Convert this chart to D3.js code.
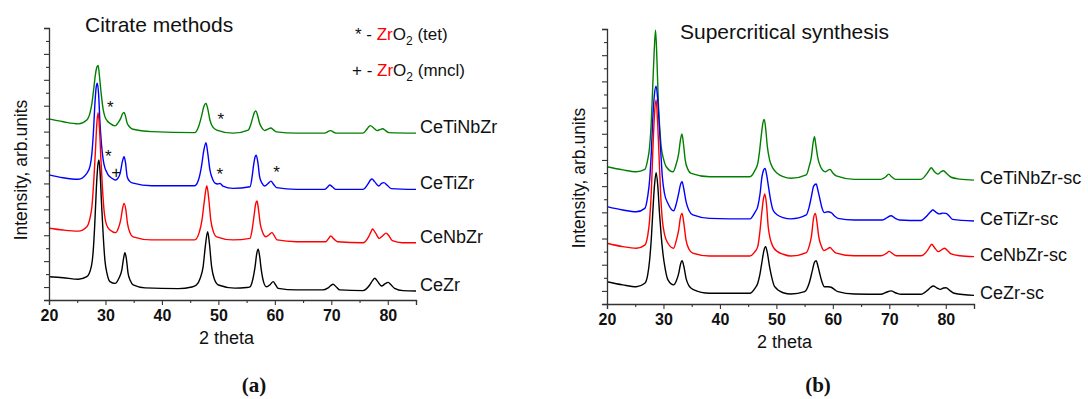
<!DOCTYPE html>
<html>
<head>
<meta charset="utf-8">
<script src="https://cdn.jsdelivr.net/npm/d3@7"></script>
<style>
  body { margin: 0; background: #fff; }
  svg { display: block; font-family: "Liberation Sans", Arial, sans-serif; }
</style>
</head>
<body>
<div id="chart"></div>
<script>
// Axis ticks
const thetaMajor = [20, 30, 40, 50, 60, 70, 80]
const thetaMinor = [25, 35, 45, 55, 65, 75, 85]
const intensityMajor = [50, 150, 250, 350, 450, 550, 650, 750, 850, 950, 1050]
const intensityMinor = [0, 100, 200, 300, 400, 500, 600, 700, 800, 900, 1000]

// (a) citrate methods, [2 theta, intensity]
const citrateCeZr = [[20,90],[22.5,86],[25.2,80],[26.7,90],[27.5,130],[27.8,181],[28.1,290],[28.4,437],[28.65,520],[28.85,541],[29.05,490],[29.3,375],[29.6,250],[29.9,154],[30.3,100],[30.8,71],[31.7,64],[32.4,85],[32.9,116],[33.2,160],[33.45,183],[33.7,160],[34.0,104],[34.4,75],[34.9,58],[37,47],[42.9,44],[45.3,50],[46.1,58],[46.8,85],[47.3,129],[47.7,210],[48.1,264],[48.4,220],[48.8,129],[49.3,80],[50,58],[52.9,46],[55,48],[55.6,51],[56.1,80],[56.5,129],[56.8,180],[57.05,196],[57.3,170],[57.6,116],[58,70],[58.5,51],[59.2,60],[59.7,71],[60.1,60],[60.6,45],[63.8,39],[68.5,39],[69.5,48],[70.3,61],[70.9,50],[71.5,39],[75.6,36],[76.8,58],[77.3,75],[77.7,84],[78.2,72],[78.9,54],[79.5,62],[80.05,68],[80.6,58],[81.2,45],[82.7,36],[85,35]]
const citrateCeNbZr = [[20,277],[22.5,270],[25.2,266],[26.7,283],[27.3,320],[27.6,360],[27.9,450],[28.2,566],[28.5,690],[28.7,723],[28.95,660],[29.2,540],[29.5,420],[29.8,335],[30.2,290],[30.8,270],[31.8,260],[32.3,278],[32.7,309],[33.0,350],[33.3,373],[33.6,350],[33.9,296],[34.3,262],[34.9,244],[38.2,232],[45.8,232],[46.6,260],[47.1,309],[47.5,380],[47.95,441],[48.3,390],[48.65,309],[49.1,265],[49.7,244],[52.6,232],[55.6,238],[56.0,275],[56.3,322],[56.6,370],[56.85,382],[57.1,350],[57.4,296],[57.9,258],[58.4,244],[59.0,252],[59.5,260],[59.9,248],[60.4,232],[63.8,225],[69.0,225],[69.5,237],[69.9,247],[70.4,237],[71.1,225],[75.6,221],[76.6,244],[77.0,262],[77.3,274],[77.8,260],[78.5,238],[79.1,248],[79.7,258],[80.2,248],[80.8,229],[82.6,221],[85,221]]
const citrateCeTiZr = [[20,483],[22.5,472],[25.2,466],[26.7,489],[27.3,520],[27.6,566],[27.9,660],[28.1,746],[28.35,820],[28.55,837],[28.8,790],[29.0,695],[29.3,600],[29.6,541],[29.9,510],[30.2,495],[30.5,482],[30.8,476],[31.3,468],[31.8,463],[32.2,470],[32.6,489],[33.0,535],[33.3,553],[33.55,530],[33.85,476],[34.3,458],[34.9,451],[38.2,441],[45.8,441],[46.5,465],[47.0,515],[47.4,575],[47.8,607],[48.1,570],[48.5,502],[49.0,465],[49.4,451],[49.9,448],[50.3,450],[50.8,440],[52.6,431],[55.6,437],[56.0,480],[56.2,515],[56.5,552],[56.7,559],[57.0,530],[57.3,476],[57.7,452],[58.2,440],[58.8,450],[59.3,459],[59.8,446],[60.3,434],[63.8,427],[68.8,427],[69.3,435],[69.7,444],[70.2,437],[70.8,427],[75.6,427],[76.5,448],[76.9,462],[77.2,467],[77.7,456],[78.4,440],[78.9,450],[79.3,453],[79.9,443],[80.6,430],[85,427]]
const citrateCeTiNbZr = [[20,699],[22.5,688],[25.2,680],[26.7,695],[27.3,725],[27.6,759],[27.95,820],[28.25,875],[28.5,900],[28.7,905],[29.0,850],[29.3,785],[29.6,735],[29.9,708],[30.3,692],[30.8,682],[31.7,672],[32.2,683],[32.7,701],[33.0,718],[33.3,724],[33.55,710],[33.85,682],[34.3,668],[34.9,659],[38.2,650],[45.8,646],[46.5,670],[47.0,708],[47.4,745],[47.8,759],[48.1,740],[48.5,695],[49.0,668],[49.7,656],[52.6,644],[55.3,656],[55.7,675],[56.05,701],[56.4,725],[56.65,730],[56.95,712],[57.3,682],[57.7,664],[58.2,654],[58.8,660],[59.3,664],[59.8,656],[60.3,649],[63.8,644],[68.8,644],[69.85,654],[70.8,644],[75.6,644],[76.2,656],[76.6,668],[76.9,673],[77.5,664],[78.1,654],[78.6,658],[79.1,661],[79.6,654],[80.2,646],[85,644]]

// (b) supercritical synthesis
const scCeZr = [[20,85],[22.8,73],[25.2,66],[26.7,79],[27.2,110],[27.55,168],[27.85,250],[28.1,346],[28.4,450],[28.7,501],[29.0,450],[29.3,346],[29.6,260],[29.9,194],[30.3,135],[30.8,92],[31.8,73],[32.3,90],[32.7,117],[33.0,150],[33.3,165],[33.6,145],[34.0,98],[34.5,70],[35.2,56],[38.2,41],[45.3,41],[46.2,60],[46.7,79],[47.1,115],[47.5,168],[47.8,205],[48.1,219],[48.4,195],[48.8,142],[49.2,100],[49.7,66],[51.2,43],[52.6,38],[55.0,47],[55.8,79],[56.4,130],[56.75,160],[57.05,165],[57.3,150],[57.6,123],[58.0,90],[58.5,66],[59.2,66],[59.7,64],[60.3,55],[60.9,47],[63.8,38],[68.5,37],[69.5,45],[70.3,50],[71.2,42],[72.1,37],[75.6,37],[76.8,53],[77.3,63],[77.8,69],[78.4,62],[79.05,56],[79.6,61],[80.05,62],[80.7,52],[81.5,41],[85,33]]
const scCeNbZr = [[20,232],[22.8,219],[25.2,213],[26.7,225],[27.2,260],[27.55,321],[27.85,430],[28.1,575],[28.4,720],[28.7,779],[28.95,700],[29.2,575],[29.5,420],[29.8,321],[30.2,265],[30.8,232],[31.8,213],[32.3,245],[32.7,283],[33.0,330],[33.3,346],[33.6,310],[34.0,244],[34.5,210],[35.2,194],[38.2,183],[45.3,183],[46.2,200],[46.7,219],[47.1,280],[47.4,346],[47.7,400],[47.95,420],[48.25,380],[48.55,295],[48.9,250],[49.4,219],[50.2,200],[51.2,190],[52.6,183],[55.3,196],[55.8,220],[56.2,257],[56.6,330],[56.9,346],[57.2,310],[57.5,257],[57.9,225],[58.4,204],[59.0,210],[59.5,216],[60.0,205],[60.6,194],[63.8,184],[68.5,184],[69.4,192],[70.0,201],[70.6,192],[71.2,184],[75.6,184],[76.8,206],[77.2,220],[77.5,228],[78.0,215],[78.7,200],[79.3,208],[79.8,213],[80.4,202],[80.95,191],[82.5,184],[85,181]]
const scCeTiZr = [[20,372],[22.8,359],[25.2,352],[26.7,365],[27.2,410],[27.55,473],[27.85,580],[28.1,703],[28.4,800],[28.7,832],[28.95,790],[29.2,703],[29.5,590],[29.8,486],[30.2,420],[30.8,384],[31.8,356],[32.3,385],[32.7,423],[33.0,455],[33.3,467],[33.6,440],[34.0,391],[34.5,358],[35.2,340],[38.2,327],[45.3,325],[46.2,350],[46.7,372],[47.1,420],[47.45,486],[47.75,512],[48.0,518],[48.3,490],[48.6,448],[49.0,395],[49.4,359],[50.2,340],[51.2,330],[52.6,325],[55.3,340],[55.8,370],[56.2,410],[56.6,450],[57.05,458],[57.4,430],[57.75,397],[58.1,365],[58.5,349],[59.1,352],[59.7,349],[60.3,336],[60.9,327],[63.8,321],[68.8,321],[69.6,330],[70.3,337],[71.0,328],[71.8,321],[75.6,319],[76.8,340],[77.3,352],[77.7,359],[78.3,350],[78.9,344],[79.5,347],[80.05,346],[80.6,336],[81.2,323],[85,317]]
const scCeTiNbZr = [[20,524],[22.8,512],[25.2,505],[26.7,514],[27.2,550],[27.55,601],[27.85,700],[28.1,830],[28.35,960],[28.6,1045],[28.85,930],[29.1,766],[29.35,670],[29.6,601],[30.0,555],[30.5,524],[31.7,505],[32.2,530],[32.7,575],[33.0,625],[33.27,649],[33.55,610],[33.85,550],[34.3,515],[34.9,499],[38.2,486],[45.3,486],[46.2,510],[46.7,537],[47.0,580],[47.3,639],[47.6,690],[47.85,705],[48.1,670],[48.4,601],[48.8,550],[49.4,518],[50.2,498],[51.2,486],[52.6,480],[55.3,493],[55.8,525],[56.2,562],[56.5,615],[56.75,639],[57.0,605],[57.3,562],[57.8,525],[58.65,505],[59.1,510],[59.5,514],[60.0,500],[60.6,489],[63.8,476],[68.5,476],[69.4,486],[69.9,496],[70.4,486],[71.1,476],[75.6,476],[76.7,499],[77.1,512],[77.4,520],[78.0,505],[78.6,496],[79.1,504],[79.6,509],[80.2,497],[80.95,484],[82.5,477],[85,473]]

const citrateNames = ['CeZr', 'CeNbZr', 'CeTiZr', 'CeTiNbZr']
const scNames = ['CeZr-sc', 'CeNbZr-sc', 'CeTiZr-sc', 'CeTiNbZr-sc']
const seriesColors = ['#000000', '#ff0000', '#0000ff', '#008000']

// ZrO2 phase marks on (a): [2 theta, intensity, symbol]
const phaseMarks = [[30.85,756,'*'],[50.45,708,'*'],[30.5,565,'*'],[31.9,494,'+'],[50.27,495,'*'],[60.3,502,'*']]

const svg = d3.select('#chart')
  .append('svg')
  .attr('width', 1088)
  .attr('height', 399)

svg.append('rect').attr('width', 1088).attr('height', 399).attr('fill', '#fff')

function drawPanel(opts) {
  const x = d3.scaleLinear().domain([20, 85]).range(opts.xRange)
  const y = d3.scaleLinear().domain([0, 1050]).range(opts.yRange)
  const g = svg.append('g')

  const line = d3.line()
    .x(d => x(d[0]))
    .y(d => y(d[1]))
    .curve(d3.curveMonotoneX)

  // bottom curve drawn last so it sits on top, like the original
  opts.series.map((s, i) => ({ s, i })).reverse().forEach(({ s, i }) => {
    g.append('path')
      .datum(s)
      .attr('fill', 'none')
      .attr('stroke', seriesColors[i])
      .attr('stroke-width', 1.4)
      .attr('stroke-linejoin', 'round')
      .attr('d', line)
  })

  opts.series.forEach((s, i) => {
    const last = s[s.length - 1]
    g.append('text')
      .attr('x', x(last[0]) + opts.labelGap)
      .attr('y', y(last[1]) + opts.labelDy)
      .attr('font-size', 18)
      .attr('fill', '#111')
      .text(opts.names[i])
  })

  const xAxis = g.append('g')
    .attr('transform', `translate(0,${opts.yRange[0]})`)
    .call(d3.axisBottom(x).tickValues(thetaMajor).tickSize(5).tickPadding(5).tickFormat(d3.format('d')))
  g.append('g')
    .attr('transform', `translate(0,${opts.yRange[0]})`)
    .call(d3.axisBottom(x).tickValues(thetaMinor).tickSize(3).tickFormat(''))
    .call(a => a.select('.domain').remove())
  xAxis.selectAll('text')
    .attr('font-size', 16)
    .attr('font-weight', 'bold')
    .attr('font-family', '"Liberation Sans", Arial, sans-serif')
    .attr('fill', '#111')

  g.append('g')
    .attr('transform', `translate(${opts.xRange[0]},0)`)
    .call(d3.axisLeft(y).tickValues(intensityMajor).tickSize(5).tickFormat(''))
  g.append('g')
    .attr('transform', `translate(${opts.xRange[0]},0)`)
    .call(d3.axisLeft(y).tickValues(intensityMinor).tickSize(3).tickFormat(''))
    .call(a => a.select('.domain').remove())

  g.selectAll('.domain').attr('stroke', '#333').attr('stroke-width', 1.3)
  g.selectAll('.tick line').attr('stroke', '#333').attr('stroke-width', 1.1)

  g.append('text')
    .attr('x', opts.title.x)
    .attr('y', opts.title.y)
    .attr('font-size', 21)
    .attr('fill', '#111')
    .text(opts.title.text)

  g.append('text')
    .attr('x', d3.mean(opts.xRange) - 6)
    .attr('y', opts.yRange[0] + 44)
    .attr('text-anchor', 'middle')
    .attr('font-size', 18)
    .attr('fill', '#111')
    .text('2 theta')

  g.append('text')
    .attr('transform', `translate(${opts.xRange[0] - 22},${opts.yLabelY}) rotate(-90)`)
    .attr('text-anchor', 'middle')
    .attr('font-size', 17.5)
    .attr('fill', '#111')
    .text('Intensity, arb.units')

  g.append('text')
    .attr('x', opts.tag.x)
    .attr('y', 392)
    .attr('text-anchor', 'middle')
    .attr('font-family', '"Liberation Serif", "DejaVu Serif", serif')
    .attr('font-weight', 'bold')
    .attr('font-size', 21)
    .attr('fill', '#111')
    .text(opts.tag.text)

  return { g, x, y }
}

const left = drawPanel({
  xRange: [49, 416],
  yRange: [300, 28],
  series: [citrateCeZr, citrateCeNbZr, citrateCeTiZr, citrateCeTiNbZr],
  names: citrateNames,
  labelGap: 4,
  labelDy: 0,
  yLabelY: 170,
  title: { x: 85, y: 32, text: 'Citrate methods' },
  tag: { x: 254, text: '(a)' }
})

drawPanel({
  xRange: [607, 974],
  yRange: [304, 29],
  series: [scCeZr, scCeNbZr, scCeTiZr, scCeTiNbZr],
  names: scNames,
  labelGap: 6,
  labelDy: 4,
  yLabelY: 178,
  title: { x: 680, y: 39, text: 'Supercritical synthesis' },
  tag: { x: 818, text: '(b)' }
})

// phase marks
left.g.selectAll('text.mark')
  .data(phaseMarks)
  .join('text')
  .attr('class', 'mark')
  .attr('x', d => left.x(d[0]))
  .attr('y', d => left.y(d[1]))
  .attr('dy', d => d[2] === '*' ? '0.5em' : '0.33em')
  .attr('text-anchor', 'middle')
  .attr('font-size', 17)
  .attr('fill', '#111')
  .text(d => d[2])

// phase legend
const legendRows = [
  { symbol: '*', phase: ' (tet)', x: 355, y: 40 },
  { symbol: '+', phase: ' (mncl)', x: 352, y: 76 }
]
legendRows.forEach(r => {
  const t = svg.append('text')
    .attr('x', r.x)
    .attr('y', r.y)
    .attr('font-size', 17)
    .attr('fill', '#111')
  t.append('tspan').text(`${r.symbol} - `)
  t.append('tspan').attr('fill', '#ff0000').text('Zr')
  t.append('tspan').text('O')
  t.append('tspan').attr('font-size', 12).attr('dy', 5).text('2')
  t.append('tspan').attr('dy', -5).text(r.phase)
})
</script>
</body>
</html>
